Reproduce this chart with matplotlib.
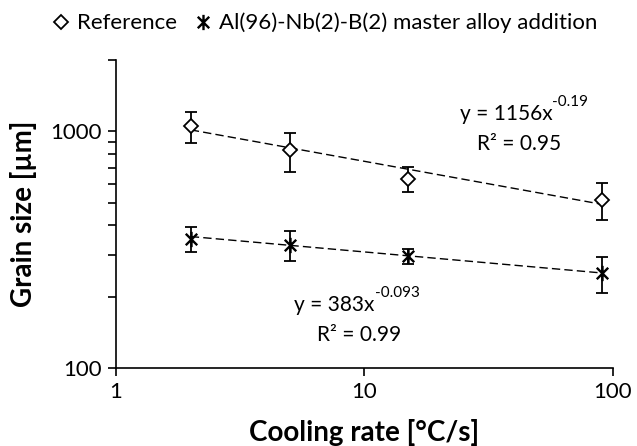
import matplotlib
matplotlib.use('Agg')
import matplotlib.pyplot as plt
import numpy as np
from matplotlib.path import Path
from matplotlib.lines import Line2D

plt.rcParams['font.family'] = ['Lato', 'DejaVu Sans']

# Data
cooling_rate = [2, 5, 15, 90]
ref_size = [1050, 830, 631, 512]
ref_err = [160, 157, 78, 92]
alloy_size = [351, 332, 297, 251]
alloy_err = [42, 48, 22, 43]

# power-law trendlines (y = a * x^b) as shown on the chart
ref_fit = (1156, -0.19)
alloy_fit = (383, -0.093)
ref_eq = ['y = 1156x', '-0.19', 'R² = 0.95']
alloy_eq = ['y = 383x', '-0.093', 'R² = 0.99']
series_names = ['Reference', 'Al(96)-Nb(2)-B(2) master alloy addition']

# star marker: vertical bar plus an X
star = Path([(0, -1), (0, 1), (-0.75, -0.75), (0.75, 0.75), (-0.75, 0.75), (0.75, -0.75)],
            [Path.MOVETO, Path.LINETO, Path.MOVETO, Path.LINETO, Path.MOVETO, Path.LINETO])

fig = plt.figure(figsize=(6.37, 4.46), dpi=100)
ax = fig.add_axes([0.1821, 0.1749, 0.7802, 0.6906])

x_fit = np.geomspace(min(cooling_rate), max(cooling_rate), 100)
for (a, b) in [ref_fit, alloy_fit]:
    ax.plot(x_fit, a * x_fit ** b, color='black', lw=1.0, dashes=(6, 3), zorder=1)

ax.errorbar(cooling_rate, ref_size, yerr=ref_err, fmt='D', ms=7, mfc='white', mec='black',
            mew=1.3, ecolor='black', elinewidth=1.3, capsize=4.3, capthick=1.3, zorder=3)
ax.errorbar(cooling_rate, alloy_size, yerr=alloy_err, fmt='none', ecolor='black',
            elinewidth=1.3, capsize=4.3, capthick=1.3, zorder=3)
ax.plot(cooling_rate, alloy_size, ls='none', marker=star, ms=11, mec='black', mew=1.7, zorder=4)

ax.set_xscale('log')
ax.set_yscale('log')
ax.set_xlim(1, 100)
ax.set_ylim(100, 2000)
ax.set_xticks([1, 10, 100])
ax.set_xticklabels(['1', '10', '100'])
ax.set_yticks([100, 1000])
ax.set_yticklabels(['100', '1000'])
ax.xaxis.set_minor_locator(matplotlib.ticker.NullLocator())
ax.yaxis.set_minor_locator(matplotlib.ticker.FixedLocator([200, 300, 400, 500, 600, 700, 800, 900, 2000]))
ax.yaxis.set_minor_formatter(matplotlib.ticker.NullFormatter())
ax.tick_params(axis='both', which='major', length=6, width=1.2, labelsize=16, pad=4)
ax.tick_params(axis='y', which='minor', length=6, width=1.2)
for side in ['top', 'right']:
    ax.spines[side].set_visible(False)
for side in ['left', 'bottom']:
    ax.spines[side].set_linewidth(1.2)

ax.set_xlabel('Cooling rate [°C/s]', fontsize=20, fontweight='bold', labelpad=12)
ax.set_ylabel('Grain size [µm]', fontsize=20, fontweight='bold', labelpad=10)


def equation(x, y, eq, r2_x, r2_y):
    t = ax.text(x, y, eq[0], fontsize=15, ha='right', va='center')
    ax.annotate(eq[1], xy=(1, 0.75), xycoords=t, fontsize=11, ha='left', va='bottom')
    ax.text(r2_x, r2_y, eq[2], fontsize=15, ha='center', va='center')


equation(57, 1179, ref_eq, 42, 881)
equation(11.0, 184, alloy_eq, 9.5, 138)

handles = [
    Line2D([], [], ls='none', marker='D', ms=7, mfc='white', mec='black', mew=1.3),
    Line2D([], [], ls='none', marker=star, ms=11, mec='black', mew=1.7),
]
fig.legend(handles, series_names, loc='center', bbox_to_anchor=(0.51, 0.948), ncol=2,
           frameon=False, fontsize=16, handlelength=0.8, handletextpad=0.3, columnspacing=0.8)

fig.savefig('out.png', dpi=100)
